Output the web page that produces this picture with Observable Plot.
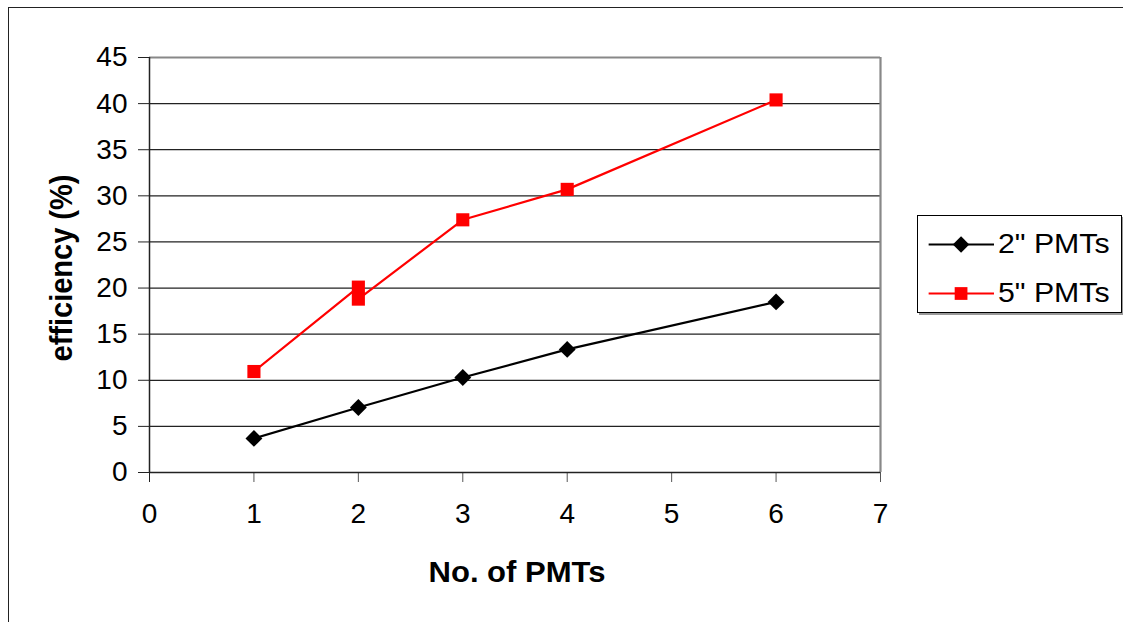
<!DOCTYPE html>
<html>
<head>
<meta charset="utf-8">
<script src="https://cdn.jsdelivr.net/npm/d3@7"></script>
<script src="https://cdn.jsdelivr.net/npm/@observablehq/plot@0.6"></script>
<style>
  html, body { margin: 0; padding: 0; background: #fff; width: 1123px; height: 622px; overflow: hidden; }
  #wrap { position: relative; width: 1123px; height: 622px; font-family: "Liberation Sans", Arial, sans-serif; }
  #frame { position: absolute; left: 8px; top: 7px; width: 1300px; height: 800px; border: 1.5px solid #222; box-sizing: border-box; }
  #chart { position: absolute; left: 0; top: 0; }
  .title { position: absolute; font-weight: bold; font-size: 29px; color: #000; white-space: nowrap; }
  #ytitle { left: 62px; top: 268px; transform: translate(-50%, -50%) rotate(-90deg) scaleY(1.06); }
  #xtitle { left: 517px; top: 572px; transform: translate(-50%, -50%) scaleX(1.07); }
  #legend { position: absolute; left: 917px; top: 215px; width: 205px; height: 98px; border: 1.5px solid #000; box-sizing: border-box; background: #fff; box-shadow: 2px 2px 0 #999; }
  .entry { position: absolute; left: 0; height: 40px; display: flex; align-items: center; }
  .entry span { font-size: 27px; color: #000; margin-left: 4px; display: inline-block; transform: scaleX(1.12); transform-origin: left center; }
</style>
</head>
<body>
<div id="wrap">
  <div id="frame"></div>
  <div id="chart"></div>
  <div id="ytitle" class="title">efficiency (%)</div>
  <div id="xtitle" class="title">No. of PMTs</div>
  <div id="legend"></div>
</div>
<script>
// ---- data ----
const seriesNames = ['2" PMTs', '5" PMTs'];
const seriesColors = ["#000000", "#ff0000"];
const seriesSymbols = ["diamond2", "square"];
const pmts2 = [1, 2, 3, 4, 6];
const eff2 = [3.7, 7.05, 10.3, 13.35, 18.5];
const pmts5 = [1, 2, 2, 3, 4, 6];
const eff5 = [10.95, 20.1, 18.8, 27.4, 30.7, 40.4];
const xTicks = [0, 1, 2, 3, 4, 5, 6, 7];
const yTicks = [0, 5, 10, 15, 20, 25, 30, 35, 40, 45];

const data2 = pmts2.map((x, i) => ({x, y: eff2[i]}));
const data5 = pmts5.map((x, i) => ({x, y: eff5[i]}));

const xMax = xTicks[xTicks.length - 1];
const yMax = yTicks[yTicks.length - 1];

const chart = Plot.plot({
  width: 1123,
  height: 622,
  marginLeft: 149,
  marginRight: 243,
  marginTop: 57,
  marginBottom: 150,
  style: {fontFamily: "'Liberation Sans', Arial, sans-serif", fontSize: "28px", color: "#000", background: "transparent", overflow: "visible"},
  x: {domain: [xTicks[0], xMax]},
  y: {domain: [yTicks[0], yMax]},
  marks: [
    Plot.ruleY(yTicks.slice(1, -1), {stroke: "#222", strokeWidth: 1.2}),
    Plot.ruleY([yMax], {stroke: "#888", strokeWidth: 2.2}),
    Plot.ruleX([xMax], {stroke: "#888", strokeWidth: 2.2}),
    Plot.axisY(yTicks, {tickSize: 11, tickPadding: 11, label: null, stroke: "#222"}),
    Plot.axisX(xTicks.slice(1), {tickSize: 10, tickPadding: 21, label: null, stroke: "#555"}),
    Plot.axisX([xTicks[0]], {tickSize: 10, tickPadding: 21, label: null, stroke: "#222"}),
    Plot.ruleX([xTicks[0]], {stroke: "#222", strokeWidth: 1.5}),
    Plot.ruleY([yTicks[0]], {stroke: "#222", strokeWidth: 1.5}),
    Plot.line(data2, {x: "x", y: "y", stroke: seriesColors[0], strokeWidth: 2.2}),
    Plot.dot(data2, {x: "x", y: "y", symbol: seriesSymbols[0], fill: seriesColors[0], stroke: "none", r: 7.6}),
    Plot.line(data5, {x: "x", y: "y", stroke: seriesColors[1], strokeWidth: 2.2}),
    Plot.dot(data5, {x: "x", y: "y", symbol: seriesSymbols[1], fill: seriesColors[1], stroke: "none", r: 7.4})
  ]
});
document.getElementById("chart").appendChild(chart);

// legend
const legend = document.getElementById("legend");
const legendTops = [8, 57];
seriesNames.forEach((name, i) => {
  const e = document.createElement("div");
  e.className = "entry";
  e.style.top = legendTops[i] + "px";
  const sw = Plot.plot({
    width: 76, height: 40, margin: 0,
    x: {domain: [0, 1], axis: null}, y: {domain: [0, 1], axis: null},
    style: {background: "transparent"},
    marks: [
      Plot.ruleY([0.5], {x1: 0.14, x2: 1, stroke: seriesColors[i], strokeWidth: 2.2}),
      Plot.dot([0.56], {x: d => d, y: 0.5, symbol: seriesSymbols[i], fill: seriesColors[i], stroke: "none", r: i === 0 ? 7.4 : 7.2})
    ]
  });
  e.appendChild(sw);
  const t = document.createElement("span");
  t.textContent = name;
  e.appendChild(t);
  legend.appendChild(e);
});
</script>
</body>
</html>
